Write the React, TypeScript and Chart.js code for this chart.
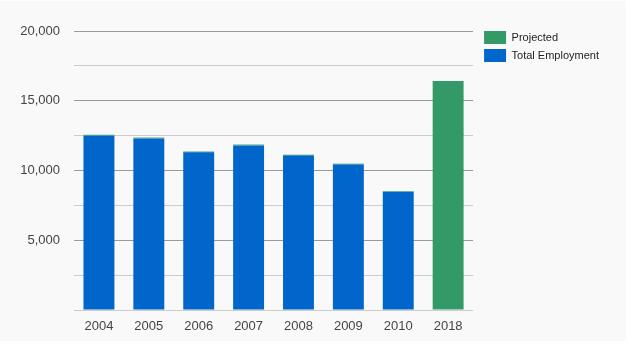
import React, { useEffect, useRef } from "react";
import { Chart, registerables } from "chart.js";

Chart.register(...registerables);

const categories = ["2004", "2005", "2006", "2007", "2008", "2009", "2010", "2018"];
const totalEmployment = [12500, 12300, 11300, 11800, 11070, 10430, 8450, 50];
const projected = [60, 60, 60, 60, 60, 60, 60, 16360];
const yMax = 20000;
const yStep = 2500;
const labelStep = 5000;

const legendOffset = {
  id: "legendOffset",
  afterLayout(chart: any) {
    const lg = chart.legend;
    if (lg) {
      lg.left += 6;
      lg.right += 6;
    }
  },
};

export default function App() {
  const ref = useRef<HTMLCanvasElement | null>(null);

  useEffect(() => {
    document.body.style.margin = "0";
    const canvas = ref.current;
    if (!canvas) return;
    const font = "Arial, 'Liberation Sans', sans-serif";
    const chart = new Chart(canvas, {
      type: "bar",
      data: {
        labels: categories,
        datasets: [
          {
            label: "Total Employment",
            data: totalEmployment,
            backgroundColor: "#0066cc",
            borderWidth: 0,
            barPercentage: 0.62,
            categoryPercentage: 1,
          },
          {
            label: "Projected",
            data: projected,
            backgroundColor: "#339966",
            borderWidth: 0,
            barPercentage: 0.62,
            categoryPercentage: 1,
          },
        ],
      },
      plugins: [legendOffset],
      options: {
        animation: false,
        responsive: false,
        maintainAspectRatio: false,
        layout: { padding: { top: 25, right: 23, left: 0, bottom: 0 } },
        plugins: {
          title: {
            display: true,
            text: "",
            padding: 0,
            font: { size: 5, lineHeight: 1 },
          },
          tooltip: { enabled: false },
          legend: {
            position: "right",
            align: "start",
            reverse: true,
            labels: {
              boxWidth: 22,
              boxHeight: 13,
              padding: 5,
              color: "#222222",
              font: { family: font, size: 11 },
            },
          },
        },
        scales: {
          x: {
            stacked: true,
            grid: { display: false },
            border: { display: false },
            ticks: {
              color: "#444444",
              font: { family: font, size: 13 },
              padding: 1,
            },
            afterFit: (s: any) => {
              s.height = 31;
            },
          },
          y: {
            stacked: true,
            min: 0,
            max: yMax,
            border: { display: false },
            grid: {
              drawTicks: false,
              color: (ctx: any) =>
                ctx.tick && ctx.tick.value % labelStep === 0 && ctx.tick.value !== 0
                  ? "#9a9a9a"
                  : "#cccccc",
            },
            ticks: {
              stepSize: yStep,
              padding: 14,
              color: "#444444",
              font: { family: font, size: 13 },
              callback: (v: any) =>
                Number(v) % labelStep === 0 && Number(v) !== 0
                  ? Number(v).toLocaleString("en-US")
                  : "",
            },
            afterFit: (s: any) => {
              s.width = 74;
            },
          },
        },
      },
    } as any);
    return () => chart.destroy();
  }, []);

  return (
    <div
      style={{
        position: "absolute",
        left: 0,
        top: 1,
        width: 626,
        height: 340,
        background: "#f9f9f9",
      }}
    >
      <canvas ref={ref} width={626} height={340} style={{ display: "block" }} />
    </div>
  );
}
